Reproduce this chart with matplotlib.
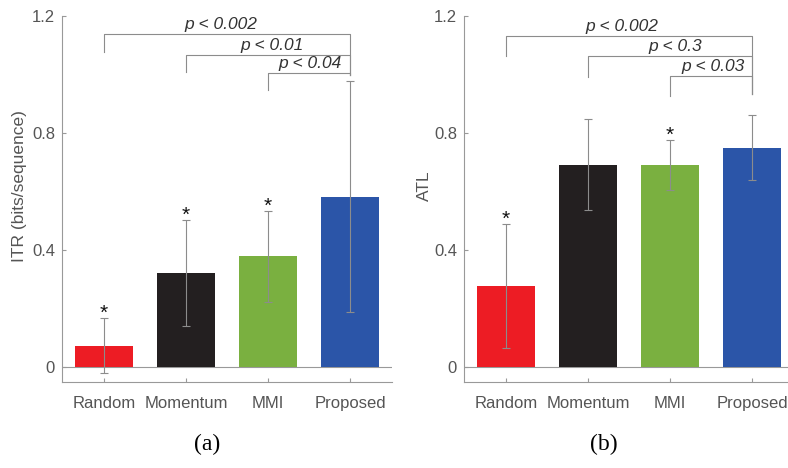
import numpy as np
import matplotlib.pyplot as plt

# data
methods = ['Random', 'Momentum', 'MMI', 'Proposed']
colors = ['#ED1C24', '#231F20', '#7AB040', '#2B55A8']

itr_mean = [0.072, 0.321, 0.378, 0.582]
itr_err = [0.094, 0.180, 0.155, 0.396]
itr_star = [True, True, True, False]
itr_pvals = ['p < 0.002', 'p < 0.01', 'p < 0.04']

atl_mean = [0.276, 0.692, 0.690, 0.750]
atl_err = [0.212, 0.155, 0.085, 0.112]
atl_star = [True, False, True, False]
atl_pvals = ['p < 0.002', 'p < 0.3', 'p < 0.03']

plt.rcParams['font.family'] = ['Liberation Sans', 'DejaVu Sans']
grey = '#8c8c8c'
txt = '#555555'

fig = plt.figure(figsize=(7.88, 4.68), dpi=100)
ax1 = fig.add_axes([0.0787, 0.1838, 0.419, 0.782])
ax2 = fig.add_axes([0.5888, 0.1838, 0.4188, 0.782])


def draw_panel(ax, mean, err, star, pvals, heights, drop, right_end, label_x,
               ylabel, ylab_x, tag, tag_x):
    x = np.arange(1, len(methods) + 1)
    ax.bar(x, mean, width=0.71, color=colors, zorder=2)
    ax.errorbar(x, mean, yerr=err, fmt='none', ecolor=grey, elinewidth=0.8,
                capsize=3, capthick=0.8, zorder=3)
    for xi, m, e, s in zip(x, mean, err, star):
        if s:
            ax.text(xi, m + e - 0.003, '*', ha='center', va='baseline',
                    fontsize=15, color='#111111', zorder=4)
    ax.axhline(0, color='#999999', lw=0.8, zorder=1)

    # significance brackets, all against "Proposed"
    for x1, h, p, lx in zip([1, 2, 3], heights, pvals, label_x):
        ax.plot([x1, x1, 4, 4], [h - drop, h, h, right_end], color=grey,
                lw=0.8, clip_on=False)
        ax.text(lx, h + 0.006, p, ha='center', va='bottom', fontsize=12.5,
                style='italic', color='#333333')

    ax.set_xlim(0.49, 4.51)
    ax.set_ylim(-0.052, 1.2)
    ax.set_yticks([0, 0.4, 0.8, 1.2])
    ax.set_yticklabels(['0', '0.4', '0.8', '1.2'])
    ax.set_xticks(x)
    ax.set_xticklabels(methods)
    ax.tick_params(direction='in', length=3, width=0.8, colors='#999999',
                   labelcolor=txt, labelsize=12, pad=5)
    ax.tick_params(axis='x', pad=10)
    for side in ['top', 'right']:
        ax.spines[side].set_visible(False)
    for side in ['left', 'bottom']:
        ax.spines[side].set_color('#999999')
        ax.spines[side].set_linewidth(0.8)
    ax.set_ylabel(ylabel, fontsize=12.5, color=txt)
    ax.yaxis.set_label_coords(ylab_x, 0.535)
    ax.text(tag_x, -0.172, tag, transform=ax.transAxes, ha='center',
            va='center', fontsize=17, family='Liberation Serif')


draw_panel(ax1, itr_mean, itr_err, itr_star, itr_pvals,
           heights=[1.138, 1.067, 1.006], drop=0.06, right_end=0.998,
           label_x=[2.43, 3.05, 3.51], ylabel='ITR (bits/sequence)',
           ylab_x=-0.106, tag='(a)', tag_x=0.44)
draw_panel(ax2, atl_mean, atl_err, atl_star, atl_pvals,
           heights=[1.133, 1.063, 0.995], drop=0.07, right_end=0.933,
           label_x=[2.41, 3.06, 3.52], ylabel='ATL',
           ylab_x=-0.097, tag='(b)', tag_x=0.425)

fig.savefig('out.png', dpi=100)
